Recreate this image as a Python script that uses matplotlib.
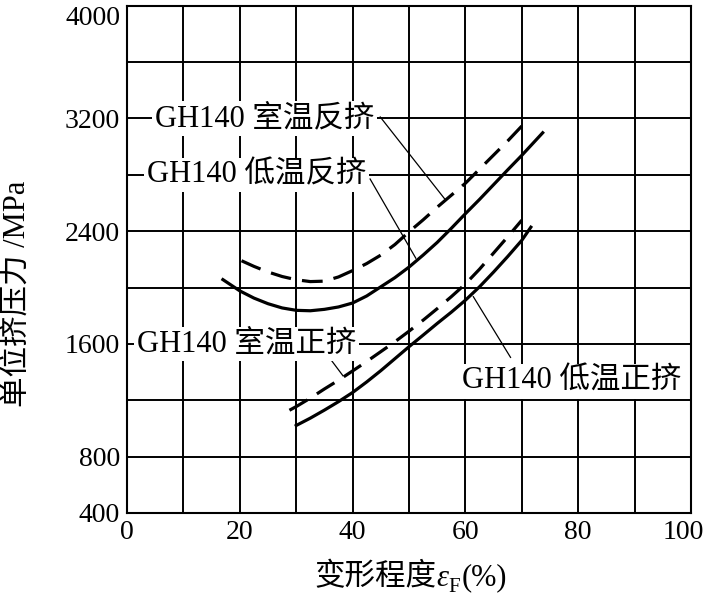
import matplotlib
matplotlib.use('Agg')
import matplotlib.pyplot as plt
from matplotlib.transforms import ScaledTranslation

plt.rcParams['font.family'] = ['Liberation Serif', 'Noto Sans CJK SC']

# GH140 低温反挤 (solid, upper)
x_low_back = [17, 20, 22.5, 25, 27.5, 30, 32.5, 35, 37.5, 40, 42.5, 45, 47.5, 50,
              52.5, 55, 57.5, 60, 62.5, 65, 67.5, 70, 73.7]
y_low_back = [2056, 1976, 1925, 1885, 1855, 1838, 1835, 1845, 1862, 1890, 1940, 2005, 2070, 2145,
              2230, 2320, 2420, 2524, 2625, 2730, 2835, 2938, 3098]

# GH140 室温反挤 (dashed, upper)
x_room_back = [20.3, 22.5, 25, 27.5, 30, 32.5, 35, 37.5, 40, 42.5, 45, 47.5, 50,
               52.5, 55, 57.5, 60, 62.5, 65, 67.5, 70]
y_room_back = [2190, 2150, 2110, 2078, 2055, 2042, 2045, 2075, 2120, 2170, 2230, 2305, 2395,
               2480, 2570, 2655, 2740, 2840, 2940, 3040, 3146]

# GH140 室温正挤 (dashed, lower)
x_room_fwd = [28.8, 30, 32.5, 35, 37.5, 40, 42.5, 45, 47.5, 50, 52.5, 55, 57.5,
              60, 62.5, 65, 67.5, 70]
y_room_fwd = [1129, 1155, 1215, 1280, 1342, 1408, 1475, 1545, 1615, 1690, 1768, 1850, 1935,
              2025, 2130, 2245, 2360, 2478]

# GH140 低温正挤 (solid, lower)
x_low_fwd = [30, 32.5, 35, 37.5, 40, 42.5, 45, 47.5, 50, 52.5, 55, 57.5, 60,
             62.5, 65, 67.5, 70, 71.6]
y_low_fwd = [1021, 1073, 1130, 1190, 1255, 1330, 1410, 1495, 1580, 1662, 1745, 1825, 1910,
             2005, 2110, 2220, 2335, 2428]

labels = ['GH140 室温反挤', 'GH140 低温反挤', 'GH140 室温正挤', 'GH140 低温正挤']
label_pos = [(5.0, 3200), (3.5, 2800), (1.7, 1600), (59.4, 1333)]
# leader lines: (text end, curve point)
leaders = [((44.9, 3210), (56.3, 2630)),
           ((43.1, 2770), (51.2, 2208)),
           ((35.3, 1533), (38.3, 1373)),
           ((68.0, 1504), (61.4, 1935))]

x_ticks = list(range(0, 101, 10))
x_ticklabels = [str(v) if v % 20 == 0 else '' for v in x_ticks]
y_ticks = list(range(400, 4001, 400))
y_ticklabels = [str(v) if v in (400, 800, 1600, 2400, 3200, 4000) else '' for v in y_ticks]

fig = plt.figure(figsize=(7.06, 5.96), dpi=100)
ax = fig.add_axes([0.1799, 0.1393, 0.7989, 0.8512])

ax.set_xlim(0, 100)
ax.set_ylim(400, 4000)
ax.set_xticks(x_ticks)
ax.set_xticklabels(x_ticklabels)
ax.set_yticks(y_ticks)
ax.set_yticklabels(y_ticklabels)
ax.tick_params(length=0, labelsize=20, pad=5)
ax.grid(True, color='black', linewidth=1.4)
ax.set_axisbelow(True)
for s in ax.spines.values():
    s.set_linewidth(1.5)

# keep the edge labels inside the picture, as in the original
last_x = ax.get_xticklabels()[-1]
last_x.set_transform(last_x.get_transform() + ScaledTranslation(-0.08, 0, fig.dpi_scale_trans))
ax.get_yticklabels()[-1].set_va('top')

dash = (0, (6.5, 3.5))
ax.plot(x_low_back, y_low_back, color='black', lw=2.3)
ax.plot(x_room_back, y_room_back, color='black', lw=2.3, linestyle=dash)
ax.plot(x_room_fwd, y_room_fwd, color='black', lw=2.3, linestyle=dash)
ax.plot(x_low_fwd, y_low_fwd, color='black', lw=2.3)

for (p0, p1) in leaders:
    ax.plot([p0[0], p1[0]], [p0[1], p1[1]], color='black', lw=0.9)

for txt, (lx, ly) in zip(labels, label_pos):
    ax.text(lx, ly, txt, ha='left', va='center', fontsize=22,
            bbox=dict(facecolor='white', edgecolor='none', pad=2))

# y label
fig.text(18 / 706, 0.507, '单位挤压力 /MPa', rotation=90, ha='center', va='center', fontsize=22)

# x label built from pieces: 变形程度 ε_F (%)
t1 = fig.text(314 / 706, 1 - 578 / 596, '变形程度', ha='left', va='center', fontsize=22)
t2 = ax.annotate('ε', xy=(1, 0), xycoords=t1, ha='left', va='bottom',
                 fontsize=22, fontstyle='italic')
t3 = ax.annotate('F', xy=(1, 0), xycoords=t2, xytext=(0.5, -3), textcoords='offset points',
                 ha='left', va='bottom', fontsize=15)
t4 = ax.annotate('(%)', xy=(1, 0), xycoords=t3, xytext=(1, 3), textcoords='offset points',
                 ha='left', va='bottom', fontsize=22)

fig.savefig('out.png', dpi=100)
